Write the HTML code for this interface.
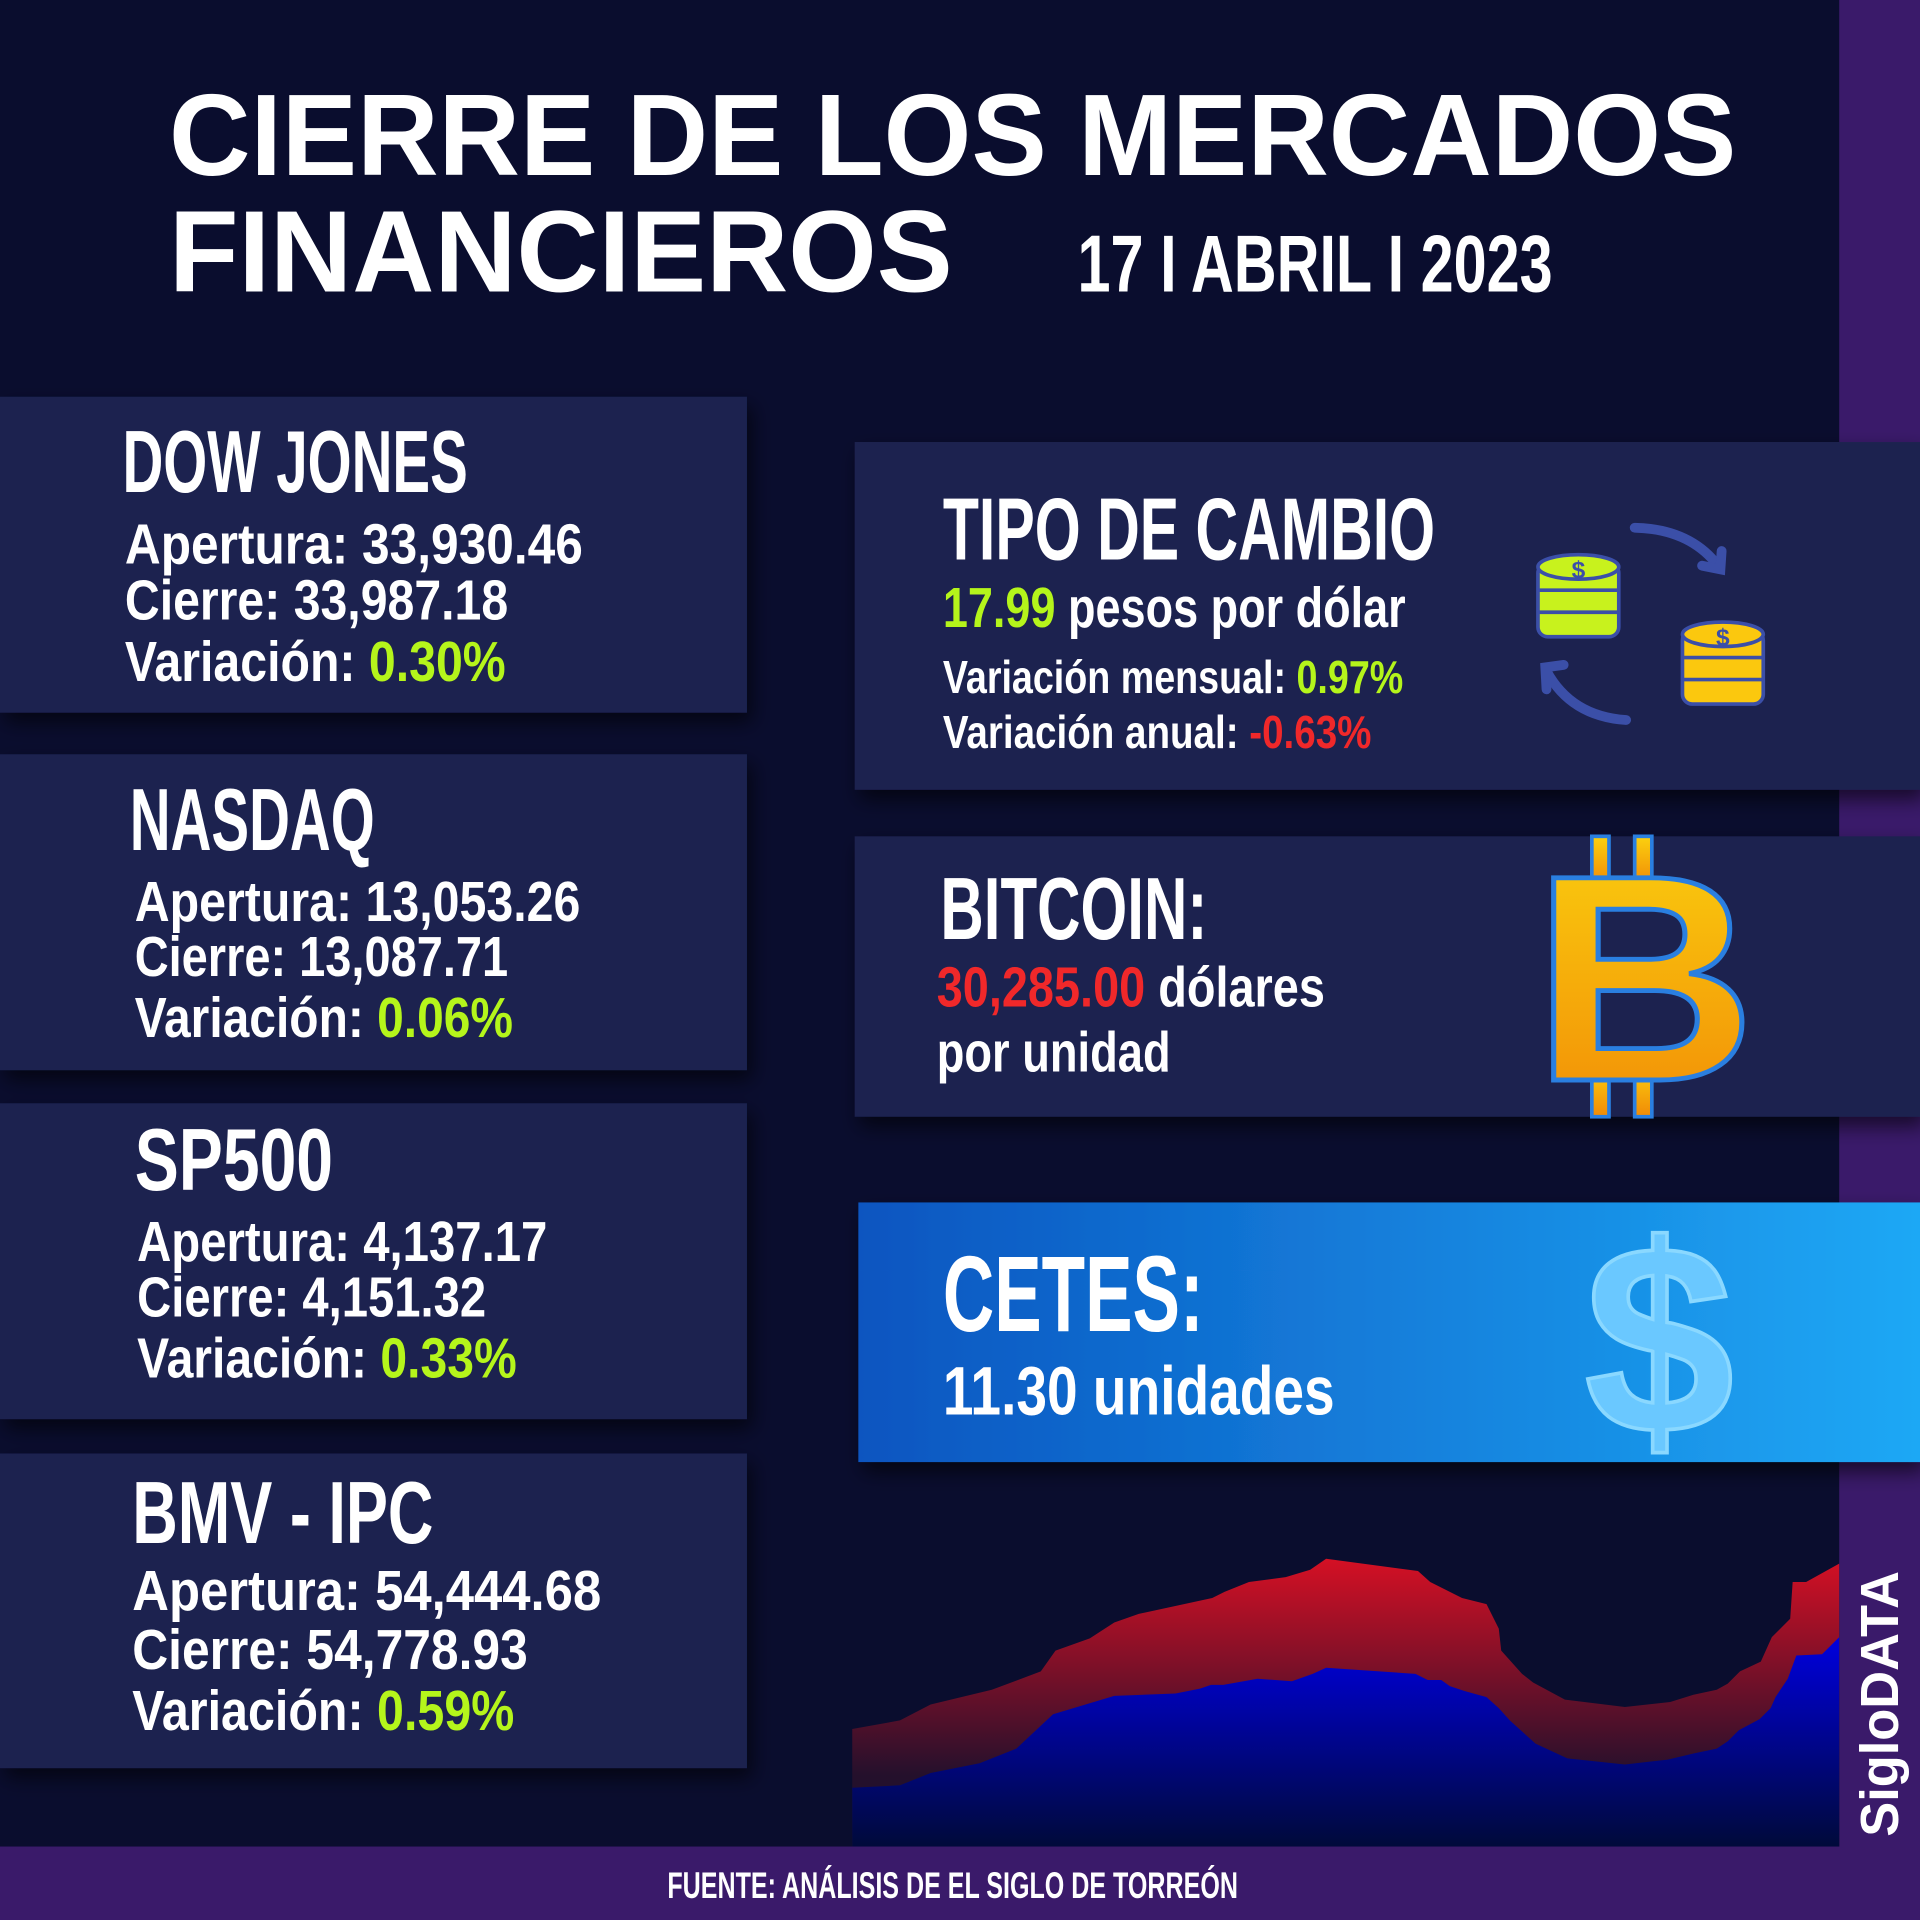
<!DOCTYPE html>
<html><head><meta charset="utf-8"><style>
html,body{margin:0;padding:0;background:#0a0d2e;}
svg{display:block}
text{font-family:"Liberation Sans Narrow","Liberation Sans",sans-serif;font-weight:bold;fill:#fff}
.t{font-family:"Liberation Sans",sans-serif}
.g{fill:#b5f51b}.r{fill:#f0282a}
</style></head><body>
<svg width="1920" height="1920" viewBox="0 0 1568 1568" xmlns="http://www.w3.org/2000/svg">
<defs>
<linearGradient id="rg" x1="0" y1="1270" x2="0" y2="1450" gradientUnits="userSpaceOnUse"><stop offset="0" stop-color="#d81024"/><stop offset="1" stop-color="#24102c"/></linearGradient>
<linearGradient id="bg2" x1="0" y1="1335" x2="0" y2="1508" gradientUnits="userSpaceOnUse"><stop offset="0" stop-color="#0000e0"/><stop offset="1" stop-color="#000a3a"/></linearGradient>
<linearGradient id="cg" x1="0" x2="1" y1="0" y2="0"><stop offset="0" stop-color="#0a55c0"/><stop offset="1" stop-color="#1ea8f5"/></linearGradient>
<linearGradient id="btc" x1="0" y1="0" x2="0" y2="1"><stop offset="0" stop-color="#fbd10f"/><stop offset="1" stop-color="#f18a06"/></linearGradient>
<filter id="sh" x="-10%" y="-10%" width="130%" height="140%"><feDropShadow dx="4" dy="8" stdDeviation="8" flood-color="#000" flood-opacity="0.6"/></filter>
</defs>
<rect width="1568" height="1568" fill="#0a0d2e"/>
<rect x="1502" y="0" width="66" height="1568" fill="#3a1a6a"/>
<rect x="0" y="1508" width="1568" height="60" fill="#3a1a6a"/>

<text class="t" x="138" y="143" font-size="95" textLength="1280" lengthAdjust="spacingAndGlyphs">CIERRE DE LOS MERCADOS</text>
<text class="t" x="138" y="238" font-size="95" textLength="640" lengthAdjust="spacingAndGlyphs">FINANCIEROS</text>
<text x="880" y="238" font-size="66" textLength="388" lengthAdjust="spacingAndGlyphs">17 I ABRIL I 2023</text>

<g filter="url(#sh)" fill="#1c2250">
<rect x="0" y="324" width="610" height="258"/>
<rect x="0" y="616" width="610" height="258"/>
<rect x="0" y="901" width="610" height="258"/>
<rect x="0" y="1187" width="610" height="257"/>
<rect x="698" y="361" width="870" height="284"/>
<rect x="698" y="683" width="870" height="229"/>
</g>
<rect x="701" y="982" width="867" height="212" fill="url(#cg)" filter="url(#sh)"/>

<g font-size="46">
<text x="100" y="402" font-size="72" textLength="282" lengthAdjust="spacingAndGlyphs">DOW JONES</text>
<text x="102" y="460" textLength="374" lengthAdjust="spacingAndGlyphs">Apertura: 33,930.46</text>
<text x="102" y="506" textLength="313" lengthAdjust="spacingAndGlyphs">Cierre: 33,987.18</text>
<text x="102" y="556" textLength="311" lengthAdjust="spacingAndGlyphs">Variación: <tspan class="g">0.30%</tspan></text>

<text x="106" y="694" font-size="72" textLength="200" lengthAdjust="spacingAndGlyphs">NASDAQ</text>
<text x="110" y="752" textLength="364" lengthAdjust="spacingAndGlyphs">Apertura: 13,053.26</text>
<text x="110" y="797" textLength="305" lengthAdjust="spacingAndGlyphs">Cierre: 13,087.71</text>
<text x="110" y="847" textLength="309" lengthAdjust="spacingAndGlyphs">Variación: <tspan class="g">0.06%</tspan></text>

<text x="110" y="972" font-size="72" textLength="162" lengthAdjust="spacingAndGlyphs">SP500</text>
<text x="112" y="1030" textLength="335" lengthAdjust="spacingAndGlyphs">Apertura: 4,137.17</text>
<text x="112" y="1075" textLength="285" lengthAdjust="spacingAndGlyphs">Cierre: 4,151.32</text>
<text x="112" y="1125" textLength="310" lengthAdjust="spacingAndGlyphs">Variación: <tspan class="g">0.33%</tspan></text>

<text x="108" y="1260" font-size="72" textLength="246" lengthAdjust="spacingAndGlyphs">BMV - IPC</text>
<text x="108" y="1315" textLength="383" lengthAdjust="spacingAndGlyphs">Apertura: 54,444.68</text>
<text x="108" y="1363" textLength="323" lengthAdjust="spacingAndGlyphs">Cierre: 54,778.93</text>
<text x="108" y="1413" textLength="312" lengthAdjust="spacingAndGlyphs">Variación: <tspan class="g">0.59%</tspan></text>

<text x="770" y="457" font-size="72" textLength="402" lengthAdjust="spacingAndGlyphs">TIPO DE CAMBIO</text>
<text x="770" y="512" textLength="378" lengthAdjust="spacingAndGlyphs"><tspan class="g">17.99</tspan> pesos por dólar</text>
<text x="770" y="566" font-size="38" textLength="376" lengthAdjust="spacingAndGlyphs">Variación mensual: <tspan class="g">0.97%</tspan></text>
<text x="770" y="611" font-size="38" textLength="350" lengthAdjust="spacingAndGlyphs">Variación anual: <tspan class="r">-0.63%</tspan></text>

<text x="768" y="767" font-size="72" textLength="218" lengthAdjust="spacingAndGlyphs">BITCOIN:</text>
<text x="765" y="822" textLength="317" lengthAdjust="spacingAndGlyphs"><tspan class="r">30,285.00</tspan> dólares</text>
<text x="765" y="875" textLength="191" lengthAdjust="spacingAndGlyphs">por unidad</text>

<text x="770" y="1087" font-size="88" textLength="213" lengthAdjust="spacingAndGlyphs">CETES:</text>
<text x="770" y="1155" font-size="56" textLength="320" lengthAdjust="spacingAndGlyphs">11.30 unidades</text>
</g>

<!-- coins & arrows -->
<g stroke="#3b4fa8" stroke-width="8" fill="none" stroke-linecap="round">
<path d="M1335 431 Q1380 432 1403 462"/><path d="M1390 462 L1405 465 L1406 450"/>
<path d="M1328 588 Q1283 585 1263 548"/><path d="M1263 563 L1262 545 L1277 543"/>
</g>
<g stroke="#3b4fa8" stroke-width="3">
<rect x="1256" y="460" width="66" height="60" rx="8" fill="#c8f21d"/>
<ellipse cx="1289" cy="463" rx="33" ry="10" fill="#c8f21d"/>
<line x1="1256" y1="482" x2="1322" y2="482"/><line x1="1256" y1="500" x2="1322" y2="500"/>
<text x="1289" y="472" font-size="20" text-anchor="middle" style="fill:#3b4fa8;stroke:none">$</text>
<rect x="1374" y="515" width="66" height="60" rx="8" fill="#fbc80e"/>
<ellipse cx="1407" cy="518" rx="33" ry="10" fill="#fbc80e"/>
<line x1="1374" y1="537" x2="1440" y2="537"/><line x1="1374" y1="555" x2="1440" y2="555"/>
<text x="1407" y="527" font-size="20" text-anchor="middle" style="fill:#3b4fa8;stroke:none">$</text>
</g>

<!-- bitcoin -->
<rect x="1300" y="683" width="14" height="40" fill="url(#btc)" stroke="#2a7fe0" stroke-width="3"/>
<rect x="1335" y="683" width="14" height="40" fill="url(#btc)" stroke="#2a7fe0" stroke-width="3"/>
<rect x="1300" y="870" width="14" height="42" fill="url(#btc)" stroke="#2a7fe0" stroke-width="3"/>
<rect x="1335" y="870" width="14" height="42" fill="url(#btc)" stroke="#2a7fe0" stroke-width="3"/>
<text class="t" x="1252" y="882" font-size="240" textLength="182" lengthAdjust="spacingAndGlyphs" style="fill:url(#btc);stroke:#2a7fe0;stroke-width:4">B</text>

<!-- dollar -->
<text class="t" x="1355" y="1170" font-size="220" text-anchor="middle" style="fill:#6ac8ff;stroke:#8ad8ff;stroke-width:3">$</text>

<!-- chart -->
<polygon fill="url(#rg)" points="696,1412 735,1405 760,1392 810,1380 850,1365 862,1348 890,1338 910,1325 930,1318 990,1305 1000,1300 1020,1292 1050,1288 1070,1282 1083,1273 1158,1283 1168,1292 1194,1305 1214,1310 1224,1330 1226,1348 1243,1367 1252,1374 1278,1388 1327,1394 1364,1390 1383,1384 1402,1380 1411,1375 1421,1365 1438,1357 1447,1337 1462,1322 1464,1292 1475,1292 1502,1277 1502,1508 696,1508"/>
<polygon fill="url(#bg2)" points="696,1460 735,1458 760,1448 800,1440 830,1428 860,1400 910,1385 960,1383 980,1379 989,1376 999,1376 1027,1371 1055,1373 1072,1367 1083,1362 1156,1367 1166,1372 1177,1372 1184,1377 1196,1381 1214,1386 1224,1395 1233,1405 1254,1424 1280,1436 1327,1441 1362,1437 1383,1432 1402,1428 1411,1422 1420,1413 1437,1404 1446,1395 1450,1386 1460,1371 1467,1352 1488,1351 1502,1337 1502,1508 696,1508"/>

<text x="545" y="1550" font-size="30" textLength="466" lengthAdjust="spacingAndGlyphs">FUENTE: ANÁLISIS DE EL SIGLO DE TORREÓN</text>
<text class="t" transform="translate(1550,1500) rotate(-90)" font-size="44" textLength="217" lengthAdjust="spacingAndGlyphs">SigloDATA</text>
</svg>
</body></html>
